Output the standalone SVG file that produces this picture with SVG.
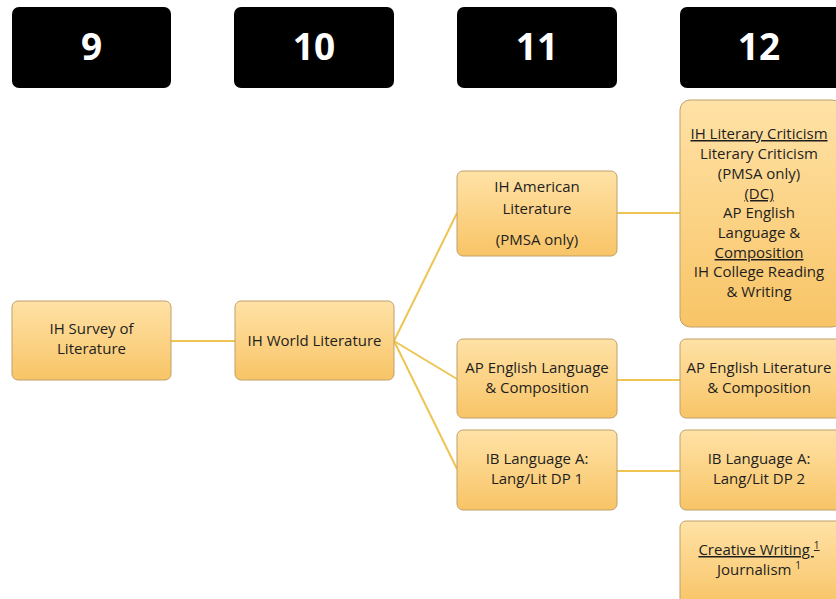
<svg xmlns="http://www.w3.org/2000/svg" width="836" height="599" viewBox="0 0 836 599">
<defs>
<linearGradient id="g" x1="0" y1="0" x2="0" y2="1">
<stop offset="0" stop-color="#FFE2A6"/>
<stop offset="1" stop-color="#F8C466"/>
</linearGradient>
</defs>
<style>
.hdr{fill:#000;}
.hn{font-family:"Open Sans","DejaVu Sans",sans-serif;font-weight:bold;font-size:37px;fill:#fff;text-anchor:middle;}
.box{fill:url(#g);stroke:#BFA06A;stroke-width:1;}
.t{font-family:"Open Sans","Liberation Sans",sans-serif;font-size:15px;fill:#1e1e1e;text-anchor:middle;}
.u{text-decoration:underline;}
.c{stroke:#EEC552;stroke-width:2;fill:none;}
</style>
<rect width="836" height="599" fill="#fff"/>
<g id="headers">
<g id="h9"><rect class="hdr" x="12" y="7" width="159" height="81" rx="7"/><text class="hn" x="91.5" y="60">9</text></g>
<g id="h10"><rect class="hdr" x="234" y="7" width="160" height="81" rx="7"/><text class="hn" x="314" y="60">10</text></g>
<g id="h11"><rect class="hdr" x="457" y="7" width="160" height="81" rx="7"/><text class="hn" x="537" y="60">11</text></g>
<g id="h12"><rect class="hdr" x="680" y="7" width="162" height="81" rx="7"/><text class="hn" x="759" y="60">12</text></g>
</g>
<g id="connectors">
<line class="c" x1="171" y1="341" x2="235" y2="341"/>
<line class="c" x1="394" y1="341" x2="457" y2="213"/>
<line class="c" x1="394" y1="341" x2="457" y2="379"/>
<line class="c" x1="394" y1="341" x2="457" y2="469"/>
<line class="c" x1="617" y1="213" x2="680" y2="213"/>
<line class="c" x1="617" y1="380" x2="680" y2="380"/>
<line class="c" x1="617" y1="471" x2="680" y2="471"/>
</g>
<g id="survey"><rect class="box" x="12" y="301" width="159" height="79" rx="6"/>
<text class="t" x="91.5" y="334">IH Survey of</text><text class="t" x="91.5" y="354">Literature</text></g>
<g id="world"><rect class="box" x="235" y="301" width="159" height="79" rx="6"/>
<text class="t" x="314.5" y="346">IH World Literature</text></g>
<g id="american"><rect class="box" x="457" y="171" width="160" height="85" rx="6"/>
<text class="t" x="537" y="192">IH American</text><text class="t" x="537" y="214">Literature</text><text class="t" x="537" y="245">(PMSA only)</text></g>
<g id="aplang"><rect class="box" x="457" y="339" width="160" height="79" rx="6"/>
<text class="t" x="537" y="373">AP English Language</text><text class="t" x="537" y="393">&amp; Composition</text></g>
<g id="ib1"><rect class="box" x="457" y="430" width="160" height="80" rx="6"/>
<text class="t" x="537" y="464">IB Language A:</text><text class="t" x="537" y="484">Lang/Lit DP 1</text></g>
<g id="criticism"><rect class="box" x="680" y="100" width="162" height="227" rx="10"/>
<text class="t u" x="759" y="139">IH Literary Criticism</text>
<text class="t" x="759" y="159">Literary Criticism</text>
<text class="t" x="759" y="179">(PMSA only)</text>
<text class="t u" x="759" y="199">(DC)</text>
<text class="t" x="759" y="218">AP English</text>
<text class="t" x="759" y="238">Language &amp;</text>
<text class="t u" x="759" y="258">Composition </text>
<text class="t" x="759" y="277">IH College Reading</text>
<text class="t" x="759" y="297">&amp; Writing</text></g>
<g id="aplit"><rect class="box" x="680" y="339" width="162" height="79" rx="6"/>
<text class="t" x="759" y="373">AP English Literature</text><text class="t" x="759" y="393">&amp; Composition</text></g>
<g id="ib2"><rect class="box" x="680" y="430" width="162" height="80" rx="6"/>
<text class="t" x="759" y="464">IB Language A:</text><text class="t" x="759" y="484">Lang/Lit DP 2</text></g>
<g id="creative"><rect class="box" x="680" y="521" width="162" height="85" rx="6"/>
<text class="t u" x="759" y="555">Creative Writing <tspan font-size="10" dy="-6">1</tspan><tspan dy="6"> </tspan></text>
<text class="t" x="759" y="575">Journalism <tspan font-size="10" dy="-6">1</tspan></text></g>
</svg>
